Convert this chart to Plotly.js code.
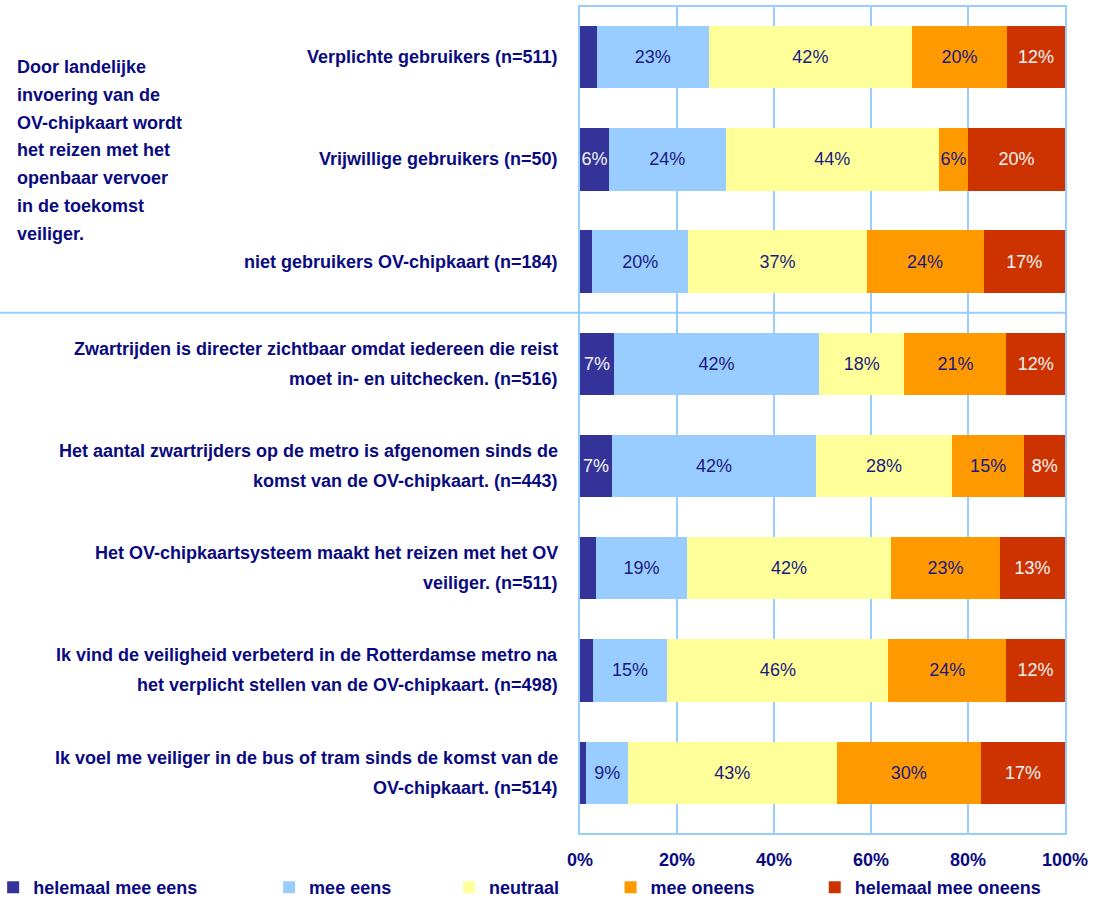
<!DOCTYPE html>
<html>
<head>
<meta charset="utf-8">
<script src="https://cdn.plot.ly/plotly-3.0.1.min.js"></script>
<style>html,body{margin:0;padding:0;background:#fff;}#chart{width:1104px;height:898px;}</style>
</head>
<body>
<div id="chart"></div>
<script>
// ---- data ----
var categories = [
  'Verplichte gebruikers (n=511)',
  'Vrijwillige gebruikers (n=50)',
  'niet gebruikers OV-chipkaart (n=184)',
  'Zwartrijden is directer zichtbaar omdat iedereen die reist<br>moet in- en uitchecken. (n=516)',
  'Het aantal zwartrijders op de metro is afgenomen sinds de<br>komst van de OV-chipkaart. (n=443)',
  'Het OV-chipkaartsysteem maakt het reizen met het OV<br>veiliger. (n=511)',
  'Ik vind de veiligheid verbeterd in de Rotterdamse metro na<br>het verplicht stellen van de OV-chipkaart. (n=498)',
  'Ik voel me veiliger in de bus of tram sinds de komst van de<br>OV-chipkaart. (n=514)'
];
var seriesNames = ['helemaal mee eens', 'mee eens', 'neutraal', 'mee oneens', 'helemaal mee oneens'];
var helemaalMeeEens   = [3.5, 6, 2.5, 7, 6.6, 3.3, 2.6, 1.3];
var meeEens           = [23, 24, 19.8, 42.3, 42.1, 18.8, 15.4, 8.6];
var neutraal          = [42, 44, 36.8, 17.6, 28, 42, 45.6, 43];
var meeOneens         = [19.5, 6, 24.1, 21, 14.9, 22.5, 24.2, 29.8];
var helemaalMeeOneens = [12, 20, 16.8, 12.1, 8.4, 13.4, 12.2, 17.3];
var xTickValues = [0, 20, 40, 60, 80, 100];
var xTickLabels = ['0%', '20%', '40%', '60%', '80%', '100%'];
var sideNoteLines = ['Door landelijke', 'invoering van de', 'OV-chipkaart wordt', 'het reizen met het', 'openbaar vervoer', 'in de toekomst', 'veiliger.'];

// ---- styling ----
var FONT = 'Liberation Sans, Arial, sans-serif';
var NAVY = '#0a0a80';
var GRID = '#99ccff';
var colors = ['#333399', '#99ccff', '#ffff99', '#ff9900', '#cc3300'];
var textColors = ['#f4f4f4', '#1a1a80', '#1a1a80', '#1a1a80', '#f4f4f4'];
var allSeries = [helemaalMeeEens, meeEens, neutraal, meeOneens, helemaalMeeOneens];
var legendX = [-1.21, -0.641, -0.27, 0.063, 0.484];

var traces = allSeries.map(function (vals, i) {
  return {
    type: 'bar',
    orientation: 'h',
    name: seriesNames[i],
    y: categories,
    x: vals,
    text: vals.map(function (v) { return v >= 5 ? Math.round(v) + '%' : ''; }),
    textposition: 'inside',
    insidetextanchor: 'middle',
    textangle: 0,
    textfont: { family: FONT, size: 18, color: textColors[i] },
    marker: { color: colors[i], line: { width: 0 } },
    hoverinfo: 'skip',
    legend: i === 0 ? 'legend' : 'legend' + (i + 1)
  };
});

var annotations = [];
categories.forEach(function (c) {
  var lines = c.split('<br>');
  lines.forEach(function (ln, k) {
    var off = lines.length === 1 ? 0 : (k === 0 ? 15 : -15);
    annotations.push({
      xref: 'paper', yref: 'y', x: 0, y: c,
      xanchor: 'right', yanchor: 'middle', xshift: -20, yshift: off,
      text: ln, showarrow: false, align: 'right',
      font: { family: FONT, size: 18, color: NAVY, weight: 'bold' }
    });
  });
});
sideNoteLines.forEach(function (ln, k) {
  annotations.push({
    xref: 'paper', yref: 'paper', x: -1.165, y: 1,
    xanchor: 'left', yanchor: 'middle', yshift: -(60 + k * 27.8),
    text: ln, showarrow: false, align: 'left',
    font: { family: FONT, size: 18, color: NAVY, weight: 'bold' }
  });
});

var layout = {
  width: 1104, height: 898,
  margin: { l: 580, r: 39, t: 7, b: 65, autoexpand: false },
  paper_bgcolor: '#ffffff', plot_bgcolor: '#ffffff',
  barmode: 'stack',
  bargap: 0.39,
  showlegend: true,
  uniformtext: { mode: 'show', minsize: 18 },
  font: { family: FONT, color: NAVY },
  xaxis: {
    range: [0, 100], tickmode: 'array', tickvals: xTickValues, ticktext: xTickLabels,
    showgrid: true, gridcolor: GRID, gridwidth: 2, zeroline: false,
    showline: true, linecolor: GRID, linewidth: 2, mirror: true,
    ticks: '', ticklabelstandoff: 9,
    tickfont: { family: FONT, size: 18, color: NAVY, weight: 'bold' },
    fixedrange: true
  },
  yaxis: {
    type: 'category', range: [7.59, -0.49],
    showticklabels: false, showgrid: false, zeroline: false,
    showline: true, linecolor: GRID, linewidth: 2, mirror: true,
    fixedrange: true
  },
  shapes: [{
    type: 'line', xref: 'paper', yref: 'y',
    x0: -1.196, x1: 1, y0: 2.5, y1: 2.5,
    line: { color: GRID, width: 2 }
  }],
  annotations: annotations
};
seriesNames.forEach(function (n, i) {
  var key = i === 0 ? 'legend' : 'legend' + (i + 1);
  layout[key] = {
    x: legendX[i], xanchor: 'left', y: -0.066, yanchor: 'middle',
    orientation: 'h', bgcolor: 'rgba(0,0,0,0)', borderwidth: 0,
    itemwidth: 30, itemclick: false, itemdoubleclick: false,
    font: { family: FONT, size: 18, color: NAVY, weight: 'bold' }
  };
});

Plotly.newPlot('chart', traces, layout, { displayModeBar: false, staticPlot: true });
</script>
</body>
</html>
